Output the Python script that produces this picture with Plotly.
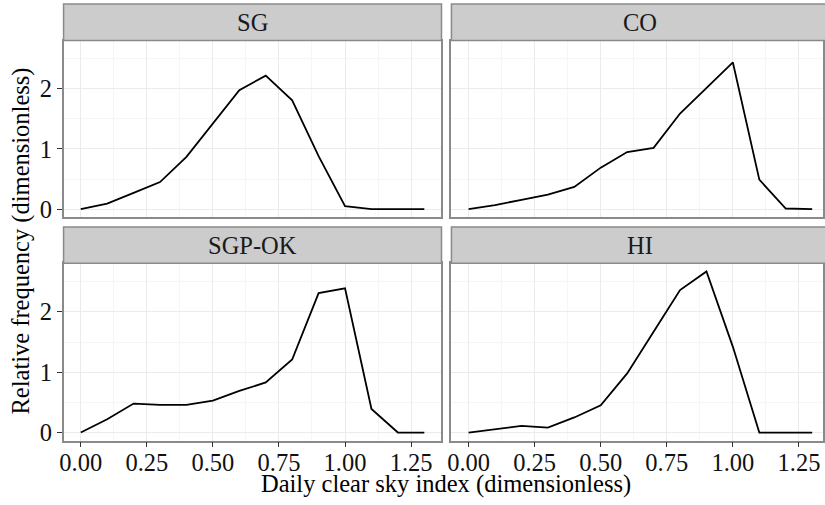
import plotly.graph_objects as go

# ---- data ----
clear_sky_index = [0.0, 0.1, 0.2, 0.3, 0.4, 0.5, 0.6, 0.7, 0.8, 0.9, 1.0, 1.1, 1.2, 1.3]
freq_sg = [0.0, 0.09, 0.27, 0.45, 0.87, 1.42, 1.98, 2.22, 1.81, 0.88, 0.05, 0.0, 0.0, 0.0]
freq_co = [0.0, 0.065, 0.155, 0.24, 0.37, 0.69, 0.95, 1.02, 1.59, 2.02, 2.44, 0.49, 0.01, 0.0]
freq_sgp_ok = [0.0, 0.22, 0.48, 0.46, 0.46, 0.53, 0.69, 0.83, 1.21, 2.31, 2.39, 0.39, 0.0, 0.0]
freq_hi = [0.0, 0.06, 0.11, 0.08, 0.25, 0.45, 0.98, 1.67, 2.36, 2.67, 1.42, 0.0, 0.0, 0.0]
site_names = ["SG", "CO", "SGP-OK", "HI"]
x_tick_vals = [0.0, 0.25, 0.5, 0.75, 1.0, 1.25]
x_tick_text = ["0.00", "0.25", "0.50", "0.75", "1.00", "1.25"]
y_tick_vals = [0, 1, 2]
y_tick_text = ["0", "1", "2"]
x_title = "Daily clear sky index (dimensionless)"
y_title = "Relative frequency (dimensionless)"

series = [freq_sg, freq_co, freq_sgp_ok, freq_hi]

W, H = 825, 505
FONT = "Liberation Serif"
FS = 24.5
BORDER = "#8a8a8a"
GRID = "#ebebeb"
MINOR = "#f5f5f5"
STRIP = "#cccccc"


def px(x):
    return x / W


def py(y):
    return 1 - y / H


# panel pixel geometry
cols = [(60.0, 440.7), (450.7, 825.0)]
rows = [(41.0, 219.3), (266.0, 445.0)]
strips = [(4.0, 41.0), (229.3, 266.0)]

xrange_left = [-0.065, 1.365]
xrange_right = [-0.065, -0.065 + 1.43 * (825.0 - 450.7) / 380.7]
ymax = max(max(s) for s in series)
yrange = [-0.05 * ymax, 1.05 * ymax]

fig = go.Figure()
shapes = []
annotations = []

for i, (name, vals) in enumerate(zip(site_names, series)):
    r, c = divmod(i, 2)
    k = "" if i == 0 else str(i + 1)
    fig.add_trace(go.Scatter(x=clear_sky_index, y=vals, mode="lines",
                             line=dict(color="black", width=1.8),
                             xaxis="x" + k, yaxis="y" + k,
                             showlegend=False, hoverinfo="x+y"))
    x0, x1 = cols[c]
    y0, y1 = rows[r]
    bottom = r == 1
    left = c == 0
    fig.layout["xaxis" + k] = dict(
        domain=[px(x0), px(x1)], anchor="y" + k,
        range=xrange_left if c == 0 else xrange_right,
        tickvals=x_tick_vals, ticktext=x_tick_text,
        showticklabels=bottom, ticks="outside" if bottom else "",
        ticklen=5, tickwidth=1.3, tickcolor="#333333",
        ticklabelstandoff=-6,
        showgrid=True, gridcolor=GRID, gridwidth=1.2,
        minor=dict(tick0=0.125, dtick=0.25, showgrid=True, gridcolor=MINOR, gridwidth=0.8),
        showline=True, mirror=True, linecolor=BORDER, linewidth=1.5,
        zeroline=False, fixedrange=True,
        tickfont=dict(family=FONT, size=FS, color="#111111"),
    )
    fig.layout["yaxis" + k] = dict(
        domain=[py(y1), py(y0)], anchor="x" + k,
        range=yrange,
        tickvals=y_tick_vals, ticktext=y_tick_text,
        showticklabels=left, ticks="outside" if left else "",
        ticklen=5, tickwidth=1.3, tickcolor="#333333",
        showgrid=True, gridcolor=GRID, gridwidth=1.2,
        minor=dict(tick0=0.5, dtick=1, showgrid=True, gridcolor=MINOR, gridwidth=0.8),
        showline=True, mirror=True, linecolor=BORDER, linewidth=1.5,
        zeroline=False, fixedrange=True,
        tickfont=dict(family=FONT, size=FS, color="#111111"),
    )
    s0, s1 = strips[r]
    sx1 = x1 if c == 0 else x0 + (cols[0][1] - cols[0][0])
    shapes.append(dict(type="rect", xref="paper", yref="paper",
                       x0=px(x0), x1=px(sx1), y0=py(s1), y1=py(s0),
                       fillcolor=STRIP, line=dict(color=BORDER, width=1.5), layer="above"))
    annotations.append(dict(text=name, xref="paper", yref="paper",
                            x=px((x0 + sx1) / 2), y=py((s0 + s1) / 2),
                            xanchor="center", yanchor="middle", showarrow=False,
                            font=dict(family=FONT, size=FS, color="#1a1a1a")))

annotations.append(dict(text=x_title, xref="paper", yref="paper",
                        x=px((60.0 + 831.4) / 2), y=py(489), xanchor="center", yanchor="middle",
                        showarrow=False, font=dict(family=FONT, size=FS, color="black")))
annotations.append(dict(text=y_title, xref="paper", yref="paper",
                        x=px(17), y=py((41.0 + 445.0) / 2), xanchor="center", yanchor="middle",
                        textangle=-90, showarrow=False,
                        font=dict(family=FONT, size=FS, color="black")))

fig.update_layout(width=W, height=H, margin=dict(l=0, r=0, t=0, b=0),
                  paper_bgcolor="white", plot_bgcolor="white",
                  shapes=shapes, annotations=annotations)

fig.write_html("out.html")
